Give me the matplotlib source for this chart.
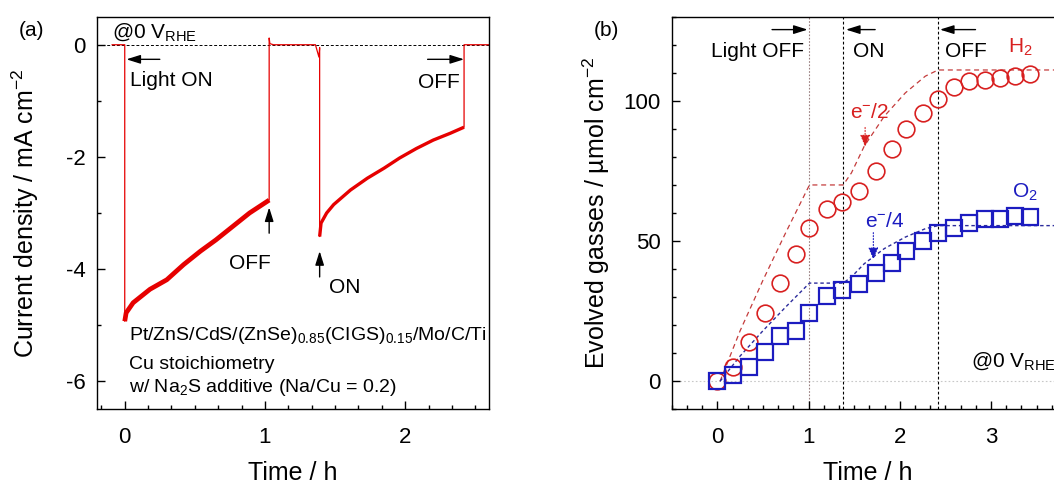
import matplotlib
matplotlib.use("Agg")
import matplotlib.pyplot as plt
from matplotlib.ticker import MultipleLocator

plt.rcParams.update({
    "font.family": ["Liberation Sans", "DejaVu Sans"],
    "mathtext.fontset": "custom",
    "mathtext.rm": "Liberation Sans",
    "mathtext.it": "Liberation Sans:italic",
    "mathtext.bf": "Liberation Sans:bold",
    "mathtext.default": "regular",
    "axes.unicode_minus": False,
})

# ---- (a) current density trace under chopped illumination ----
dark1_t = [-0.09, 0.0]
dark1_j = [0.0, 0.0]
light1_t = [0.0, 0.01, 0.06, 0.18, 0.30, 0.42, 0.54, 0.65, 0.77, 0.89, 1.03]
light1_j = [-4.93, -4.78, -4.60, -4.36, -4.19, -3.92, -3.68, -3.48, -3.24, -3.00, -2.77]
dark2_t = [1.03, 1.035, 1.06, 1.36, 1.385, 1.39]
dark2_j = [0.12, 0.02, 0.0, 0.0, -0.22, -0.05]
light2_t = [1.39, 1.40, 1.44, 1.49, 1.61, 1.73, 1.85, 1.96, 2.08, 2.20, 2.32, 2.42]
light2_j = [-3.42, -3.18, -3.00, -2.85, -2.59, -2.38, -2.20, -2.02, -1.85, -1.70, -1.58, -1.47]
dark3_t = [2.42, 2.60]
dark3_j = [0.0, 0.0]

# ---- (b) evolved gases and the amounts expected from the passed charge ----
gas_t = [0.0, 0.17, 0.35, 0.52, 0.69, 0.86, 1.01, 1.20, 1.37, 1.55, 1.74,
         1.91, 2.07, 2.25, 2.42, 2.59, 2.76, 2.93, 3.10, 3.26, 3.43]
h2_umol = [0, 5, 14, 24.5, 35, 45.5, 54.5, 61.5, 64, 68, 75,
           83, 90, 95.5, 100.5, 105, 107, 107.5, 108, 109, 109.5]
o2_umol = [0, 2.4, 5, 10.3, 16, 17.8, 24.4, 30.3, 32.7, 34.7, 38.7,
           42, 46.4, 50, 53, 54.7, 56.5, 58, 58, 58.8, 58.6]
charge_t = [0.03, 0.25, 0.50, 0.75, 1.01, 1.38, 1.47, 1.61, 1.83, 2.06, 2.28, 2.42, 3.80]
h2_from_charge = [0, 18, 36, 53, 70, 70, 74.3, 83.8, 94.5, 102.8, 108.8, 111, 111]
o2_from_charge = [0, 9, 18, 26.5, 35, 35, 37.2, 41.9, 47.3, 51.4, 54.4, 55.5, 55.5]
switch_t = [1.0, 1.38, 2.42]

RED = "#e60000"
CIRC = "#d82020"
BLUE = "#1c1cc0"

W, H = 1054, 484
fig = plt.figure(figsize=(W / 100, H / 100), dpi=100)
ax1 = fig.add_axes([96.7 / W, (H - 409.3) / H, 392.6 / W, 392.6 / H])
ax2 = fig.add_axes([671.7 / W, (H - 409.3) / H, 392.3 / W, 392.6 / H])


def style_axes(ax):
    for s in ax.spines.values():
        s.set_linewidth(1.0)
    ax.tick_params(which="both", direction="in", top=False, right=False,
                   width=1.0, labelsize=16)
    ax.tick_params(which="major", length=6)
    ax.tick_params(which="minor", length=3)
    ax.tick_params(axis="y", which="both", pad=8)
    ax.tick_params(axis="x", which="both", pad=13)
    ax.xaxis.set_major_locator(MultipleLocator(1))
    ax.xaxis.set_minor_locator(MultipleLocator(1 / 6))


# ---------------- panel (a) ----------------
style_axes(ax1)
ax1.set_xlim(-0.2, 2.6)
ax1.set_ylim(-6.5, 0.5)
ax1.yaxis.set_major_locator(MultipleLocator(2))
ax1.yaxis.set_minor_locator(MultipleLocator(1))

ax1.axhline(0, color="k", ls=(0, (3, 2)), lw=0.7, zorder=1)
trace_t = dark1_t + light1_t + dark2_t + light2_t + dark3_t
trace_j = dark1_j + light1_j + dark2_j + light2_j + dark3_j
ax1.plot(trace_t, trace_j, color=RED, lw=0.9, zorder=2)
ax1.plot(light1_t, light1_j, color=RED, lw=3.4, solid_capstyle="butt", zorder=3)
ax1.plot(light2_t, light2_j, color=RED, lw=2.4, solid_capstyle="butt", zorder=3)

ax1.set_xlabel("Time / h", fontsize=18, va="center")
ax1.xaxis.set_label_coords(0.5, -0.163)
ax1.set_ylabel("Current density / mA cm$^{-2}$", fontsize=18, va="center")
ax1.yaxis.set_label_coords(-0.182, 0.5)

arrow_k = dict(arrowstyle="-|>,head_length=0.7,head_width=0.22", color="k",
               lw=1.0, shrinkA=0, shrinkB=0, mutation_scale=12)
ax1.text(-0.09, 0.124, "@0 V$_{RHE}$", fontsize=15, ha="left", va="baseline")
ax1.annotate("", xy=(0.012, -0.26), xytext=(0.25, -0.26), arrowprops=arrow_k)
ax1.text(0.04, -0.63, "Light ON", fontsize=15, ha="left", va="center")
ax1.annotate("", xy=(2.42, -0.26), xytext=(2.16, -0.26), arrowprops=arrow_k)
ax1.text(2.39, -0.67, "OFF", fontsize=15, ha="right", va="center")
ax1.annotate("", xy=(1.03, -2.90), xytext=(1.03, -3.36), arrowprops=arrow_k)
ax1.text(0.89, -3.90, "OFF", fontsize=15, ha="center", va="center")
ax1.annotate("", xy=(1.39, -3.68), xytext=(1.39, -4.14), arrowprops=arrow_k)
ax1.text(1.57, -4.32, "ON", fontsize=15, ha="center", va="center")
ax1.text(0.03, -5.19, "Pt/ZnS/CdS/(ZnSe)$_{0.85}$(CIGS)$_{0.15}$/Mo/C/Ti",
         fontsize=14, ha="left", va="center")
ax1.text(0.03, -5.70, "Cu stoichiometry", fontsize=14, ha="left", va="center")
ax1.text(0.03, -6.12, "w/ Na$_2$S additive (Na/Cu = 0.2)", fontsize=14,
         ha="left", va="center")

# ---------------- panel (b) ----------------
style_axes(ax2)
ax2.set_xlim(-0.5, 3.8)
ax2.set_ylim(-10, 130)
ax2.yaxis.set_major_locator(MultipleLocator(50))
ax2.yaxis.set_minor_locator(MultipleLocator(10))

ax2.axhline(0, color="#c8c8c8", ls=(0, (1.5, 2)), lw=0.8, zorder=1)
switch_styles = [dict(color="#9a8080", ls=(0, (1.5, 1.5)), lw=0.8),
                 dict(color="k", ls=(0, (2.5, 2)), lw=0.8),
                 dict(color="k", ls=(0, (2.5, 2)), lw=0.8)]
for t, st in zip(switch_t, switch_styles):
    ax2.axvline(t, zorder=1, **st)

ax2.plot(charge_t, h2_from_charge, color="#c43c3c", ls=(0, (4, 3)), lw=0.9, zorder=2)
ax2.plot(charge_t, o2_from_charge, color="#2c2c9c", ls=(0, (2.5, 2)), lw=1.0, zorder=2)
ax2.plot(gas_t, h2_umol, ls="none", marker="o", ms=12, mfc="none", mec=CIRC,
         mew=1.2, zorder=3)
ax2.plot(gas_t, o2_umol, ls="none", marker="s", ms=12, mfc="none", mec=BLUE,
         mew=1.6, zorder=4)

ax2.set_xlabel("Time / h", fontsize=18, va="center")
ax2.xaxis.set_label_coords(0.5, -0.163)
ax2.set_ylabel("Evolved gasses / µmol cm$^{-2}$", fontsize=18, va="center")
ax2.yaxis.set_label_coords(-0.193, 0.5)

ax2.annotate("", xy=(0.99, 125.4), xytext=(0.60, 125.4), arrowprops=arrow_k)
ax2.text(0.95, 117.6, "Light OFF", fontsize=15, ha="right", va="center")
ax2.annotate("", xy=(1.41, 125.4), xytext=(1.73, 125.4), arrowprops=arrow_k)
ax2.text(1.49, 117.6, "ON", fontsize=15, ha="left", va="center")
ax2.annotate("", xy=(2.44, 125.4), xytext=(2.83, 125.4), arrowprops=arrow_k)
ax2.text(2.50, 117.6, "OFF", fontsize=15, ha="left", va="center")
ax2.text(3.19, 119, "H$_2$", fontsize=15, color=CIRC, ha="left", va="center")
ax2.text(3.23, 67.5, "O$_2$", fontsize=15, color=BLUE, ha="left", va="center")
ax2.text(1.45, 96, "e$^{-}$/2", fontsize=15, color=CIRC, ha="left", va="center")
ax2.annotate("", xy=(1.62, 83.6), xytext=(1.62, 90.5),
             arrowprops=dict(arrowstyle="-|>,head_length=0.6,head_width=0.25",
                             color=CIRC, lw=0.8, ls=":", shrinkA=0, shrinkB=0,
                             mutation_scale=12))
ax2.text(1.62, 56.8, "e$^{-}$/4", fontsize=15, color=BLUE, ha="left", va="center")
ax2.annotate("", xy=(1.71, 43.4), xytext=(1.71, 53.0),
             arrowprops=dict(arrowstyle="-|>,head_length=0.6,head_width=0.25",
                             color=BLUE, lw=0.8, ls=":", shrinkA=0, shrinkB=0,
                             mutation_scale=12))
ax2.text(2.78, 7, "@0 V$_{RHE}$", fontsize=15, ha="left", va="center")

fig.text(31 / W, 1 - 30 / H, "(a)", fontsize=15, ha="center", va="center")
fig.text(606 / W, 1 - 30 / H, "(b)", fontsize=15, ha="center", va="center")

fig.savefig("out.png", dpi=100)
